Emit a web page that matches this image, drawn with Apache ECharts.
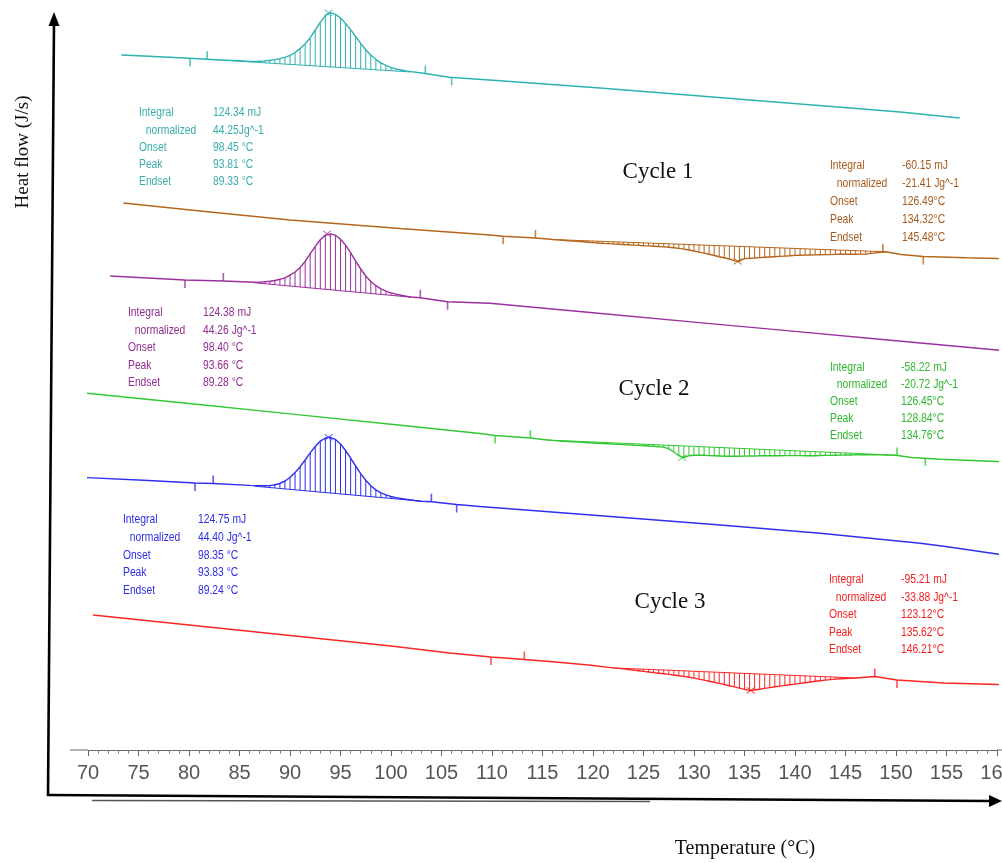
<!DOCTYPE html>
<html>
<head>
<meta charset="utf-8">
<title>DSC cycles</title>
<script src="https://cdn.jsdelivr.net/npm/echarts@6/dist/echarts.min.js"></script>
<style>
    html, body { margin: 0; padding: 0; background: #fff; overflow: hidden; }
    #main { position: absolute; left: 0; top: 0; width: 1002px; height: 863px; }
</style>
</head>
<body>
<div id="main"></div>
<script>
// ---- 数据：温度(°C) / 热流(任意单位) ----
// cycle 1 冷却（青色，放热峰）
var c1Cool = [[73.3,695],[76.0,693.8],[80.1,691.7],[81.8,690.8],[83.1,690.0],[85.0,689.2],
    [86.0,688.5],[86.5,688.6],[87.0,688.7],[87.5,689.1],[88.0,689.7],[88.5,690.4],[89.0,691.3],[89.5,692.7],
    [90.0,694.6],[90.5,697.5],[91.0,701.4],[91.5,706.1],[92.0,712.3],[92.5,720.0],[93.0,727.7],[93.5,734.4],
    [94.0,737.3],[94.5,735.7],[95.0,731.9],[95.5,726.6],[96.0,720.3],[96.5,713.5],[97.0,706.6],[97.5,700.3],
    [98.0,695.0],[98.5,690.7],[99.0,687.2],[99.5,684.6],[100.0,682.6],[100.5,681.1],[101.0,680.0],[101.5,679.1],
    [102.0,678.4],[103.2,676.7],[105.8,672.7],[110.8,669.3],[120.7,662.0],[130.6,654.0],[140.5,646.0],
    [150.4,638.0],[156.3,632.0]];
var c1CoolBase = [[83.1,690.0],[102.0,678.0]];
var c1CoolMarks = [[80.1,691.7],[81.8,690.8],[103.4,676.4],[106.0,672.6]];
var c1CoolPeak = [93.81,737.3];

// cycle 1 加热（棕色，吸热谷）
var c1Heat = [[73.5,547],[81.1,539],[90.0,530],[100.9,521.5],[109.8,515],[111.1,513.8],[114.3,512],[115.5,511],
    [116.0,510.5],[116.5,510.1],[117.0,509.7],[117.5,509.3],[118.0,509.0],[118.5,508.6],[119.0,508.2],[119.5,507.8],
    [120.0,507.4],[120.5,507.0],[121.0,506.6],[121.5,506.4],[122.0,506.1],[122.5,505.8],[123.0,505.5],[123.5,505.2],
    [124.0,504.9],[124.5,504.6],[125.0,504.3],[125.5,504.1],[126.0,503.8],[126.5,503.5],[127.0,503.1],[127.5,502.7],
    [128.0,502.2],[128.5,501.6],[129.0,500.9],[129.5,500.0],[130.0,499.0],[130.5,497.9],[131.0,496.9],[131.5,495.7],
    [132.0,494.5],[132.5,493.3],[133.0,492.2],[133.5,491.0],[134.0,489.3],[134.5,488.8],[135.0,491.4],[135.5,491.7],
    [136.0,492.0],[136.5,492.4],[137.0,492.7],[137.5,493.0],[138.0,493.3],[138.5,493.6],[139.0,493.9],[139.5,494.2],
    [140.0,494.6],[140.5,494.8],[141.0,494.9],[141.5,495.0],[142.0,495.1],[142.5,495.3],[143.0,495.4],[143.5,495.4],
    [144.0,495.6],[144.5,495.7],[145.0,495.7],[145.5,495.7],[146.0,495.8],[146.5,495.9],[147.0,495.9],[147.5,496.6],
    [148.0,497.1],[148.5,497.7],[149.0,498.2],[150.5,495.5],[152.7,493.5],[157.0,492.2],[160.0,491.5],[160.5,491.3]];
var c1HeatBase = [[116.0,510.5],[149.0,498.2]];
var c1HeatMarks = [[111.1,513.8],[114.3,512.0],[148.7,498.3],[152.7,493.5]];
var c1HeatPeak = [134.32,488.6];

// cycle 2 冷却（紫色）
var c2Cool = [[72.2,474],[79.6,470],[83.4,469],
    [86.5,467.7],[87.0,467.9],[87.5,468.3],[88.0,468.8],[88.5,469.5],[89.0,470.7],[89.5,472.2],[90.0,474.9],
    [90.5,478.0],[91.0,482.5],[91.5,488.6],[92.0,496.1],[92.5,503.6],[93.0,510.2],[93.5,514.7],[94.0,516.2],
    [94.5,514.8],[95.0,510.8],[95.5,504.9],[96.0,497.4],[96.5,488.9],[97.0,481.0],[97.5,474.0],[98.0,468.5],
    [98.5,464.3],[99.0,461.1],[99.5,458.9],[100.0,457.2],[100.5,455.8],[101.0,454.8],[101.5,453.8],[102.0,453.0],
    [102.9,452.3],[105.6,448.3],[109.8,446.7],[120.0,437.2],[130.0,427.9],[140.0,418.6],[150.0,409.3],[160.0,400.0],
    [160.5,399.5]];
var c2CoolBase = [[86.5,467.2],[102.0,452.8]];
var c2CoolMarks = [[79.6,470.0],[83.4,469.0],[102.9,452.3],[105.6,448.3]];
var c2CoolPeak = [93.66,516.2];

// cycle 2 加热（绿色）
var c2Heat = [[69.7,357],[80.0,346.5],[90.0,336.1],[100.0,325.7],[108.8,316.5],[110.3,314.5],[113.8,312.0],
    [115.5,310.0],[116.0,309.6],[116.5,309.3],[117.0,308.8],[117.5,308.5],[118.0,308.2],[118.5,307.9],[119.0,307.6],
    [119.5,307.3],[120.0,307.0],[120.5,306.7],[121.0,306.5],[121.5,306.2],[122.0,305.9],[122.5,305.7],[123.0,305.4],
    [123.5,305.1],[124.0,304.8],[124.5,304.6],[125.0,304.3],[125.5,304.0],[126.0,303.8],[126.5,303.3],[127.0,302.9],
    [127.5,301.2],[128.0,298.0],[128.5,294.3],[129.0,292.5],[129.5,294.3],[130.0,294.8],[130.5,294.8],[131.0,294.7],
    [131.5,294.4],[132.0,294.2],[132.5,294.0],[133.0,293.8],[133.5,293.7],[134.0,293.8],[134.5,293.8],[135.0,293.9],
    [135.5,294.0],[136.0,293.9],[136.5,294.2],[137.0,294.3],[137.5,294.3],[138.0,294.3],[138.5,294.3],[139.0,294.4],
    [139.5,294.4],[140.0,294.4],[140.5,294.4],[141.0,294.3],[141.5,294.3],[142.0,294.3],[142.5,294.5],[143.0,294.6],
    [143.5,294.6],[144.0,294.8],[144.5,294.9],[145.0,295.0],[145.5,295.0],[146.0,295.1],[146.5,295.2],[147.0,295.2],
    [147.5,295.2],[148.0,295.1],[148.5,295.1],[149.0,295.0],[149.5,294.9],[150.0,294.8],[151.5,292.5],[154.4,290.7],
    [160.0,288.5],[160.5,288.3]];
var c2HeatBase = [[115.5,310.0],[150.0,294.8]];
var c2HeatMarks = [[110.3,314.5],[113.8,312.0],[150.1,294.6],[152.9,292.0]];
var c2HeatPeak = [128.84,292.3];

// cycle 3 冷却（蓝色）
var c3Cool = [[69.6,272.5],[76.0,269.5],[80.6,267.0],[82.4,266.5],[86.0,264.6],
    [86.5,264.4],[87.0,264.2],[87.5,264.2],[88.0,264.4],[88.5,265.2],[89.0,266.5],[89.5,269.0],[90.0,272.5],
    [90.5,277.4],[91.0,283.3],[91.5,290.0],[92.0,297.1],[92.5,303.5],[93.0,308.9],[93.5,312.0],[94.0,312.7],
    [94.5,310.6],[95.0,306.0],[95.5,299.5],[96.0,291.9],[96.5,284.0],[97.0,276.4],[97.5,269.8],[98.0,264.3],
    [98.5,260.1],[99.0,257.2],[99.5,255.1],[100.0,253.5],[100.5,252.4],[101.0,251.5],[101.5,250.7],[102.0,250.0],
    [102.5,249.3],[103.0,248.8],[104.0,248.3],[106.5,245.5],[108.8,243.5],[122.7,232.7],[132.6,225.0],
    [142.5,216.7],[152.4,206.7],[154.9,203.5],[160.0,196.0],[160.5,195.2]];
var c3CoolBase = [[86.5,263.8],[103.0,248.8]];
var c3CoolMarks = [[80.6,267.0],[82.4,266.5],[104.0,248.3],[106.5,245.5]];
var c3CoolPeak = [93.83,312.7];

// cycle 3 加热（红色）
var c3Heat = [[70.5,135],[80.0,125.0],[90.0,114.5],[100.0,104.0],[105.8,97.0],[109.9,93.0],[113.2,90.5],
    [116.3,88.0],[119.8,84.8],
    [122.0,82.1],[122.5,81.6],[123.0,81.1],[123.5,80.5],[124.0,79.9],[124.5,79.3],[125.0,78.6],[125.5,78.0],
    [126.0,77.4],[126.5,76.8],[127.0,76.2],[127.5,75.6],[128.0,75.0],[128.5,74.3],[129.0,73.6],[129.5,72.8],
    [130.0,71.9],[130.5,70.9],[131.0,69.9],[131.5,68.8],[132.0,67.7],[132.5,66.6],[133.0,65.5],[133.5,64.3],
    [134.0,63.1],[134.5,61.9],[135.0,60.6],[135.5,59.6],[136.0,60.0],[136.5,60.8],[137.0,61.6],[137.5,62.4],
    [138.0,63.2],[138.5,63.9],[139.0,64.6],[139.5,65.3],[140.0,65.9],[140.5,66.6],[141.0,67.3],[141.5,68.0],
    [142.0,68.7],[142.5,69.3],[143.0,69.9],[143.5,70.4],[144.0,70.9],[144.5,71.2],[145.0,71.4],[145.5,71.7],
    [146.0,72.0],[147.9,73.5],[150.1,70.0],[154.7,67.0],[160.0,65.5],[160.5,65.3]];
var c3HeatBase = [[122.0,82.1],[146.0,72.0]];
var c3HeatMarks = [[109.9,93.0],[113.2,90.5],[147.9,73.5],[150.1,70.0]];
var c3HeatPeak = [135.62,59.6];

// 刻度
var tempMin = 70, tempMax = 160, tempStep = 5;

// 标注文字
var infoLabels = ['Integral', ' normalized', 'Onset', 'Peak', 'Endset'];
var c1CoolInfo = ['124.34 mJ', '44.25Jg^-1', '98.45 °C', '93.81 °C', '89.33 °C'];
var c1HeatInfo = ['-60.15 mJ', '-21.41 Jg^-1', '126.49°C', '134.32°C', '145.48°C'];
var c2CoolInfo = ['124.38 mJ', '44.26 Jg^-1', '98.40 °C', '93.66 °C', '89.28 °C'];
var c2HeatInfo = ['-58.22 mJ', '-20.72 Jg^-1', '126.45°C', '128.84°C', '134.76°C'];
var c3CoolInfo = ['124.75 mJ', '44.40 Jg^-1', '98.35 °C', '93.83 °C', '89.24 °C'];
var c3HeatInfo = ['-95.21 mJ', '-33.88 Jg^-1', '123.12°C', '135.62°C', '146.21°C'];
var cycleNames = ['Cycle 1', 'Cycle 2', 'Cycle 3'];

(function () {
    var myechart = echarts.init(document.getElementById('main'));

    var colors = {
        cyan: '#2db3b0', brown: '#b5651d', purple: '#9c2f9c',
        green: '#33c833', blue: '#2f2ff0', red: '#ff2626'
    };

    // 积分区域的竖线（曲线到基线）
    function hatchSeries(curve, base, color) {
        var pts = curve.filter(function (p) {
            return p[0] >= base[0][0] && p[0] <= base[1][0];
        });
        return {
            type: 'custom',
            data: pts,
            silent: true,
            z: 3,
            renderItem: function (params, api) {
                var t = api.value(0), v = api.value(1);
                var b = base[0][1] + (base[1][1] - base[0][1]) * (t - base[0][0]) / (base[1][0] - base[0][0]);
                var p1 = api.coord([t, v]);
                var p2 = api.coord([t, b]);
                return {
                    type: 'line',
                    shape: { x1: p1[0], y1: p1[1], x2: p2[0], y2: p2[1] },
                    style: { stroke: color, lineWidth: 1 }
                };
            }
        };
    }

    // 曲线一直画到画布右边（超出 160 一点）
    function curveSeries(curve, color) {
        return {
            type: 'line', data: curve, symbol: 'none', silent: true, z: 4, clip: false,
            lineStyle: { color: color, width: 1.4 }
        };
    }

    function baseSeries(base, color) {
        return {
            type: 'line', data: base, symbol: 'none', silent: true, z: 3,
            lineStyle: { color: color, width: 1 }
        };
    }

    // 积分起止的小竖标
    function markSeries(marks, color) {
        return {
            type: 'scatter', silent: true, z: 5,
            symbol: 'rect', symbolSize: [1.6, 8],
            itemStyle: { color: color },
            data: marks.map(function (p, i) {
                return { value: p, symbolOffset: [0, (i === 0 || i === 3) ? 4 : -4] };
            })
        };
    }

    // 峰值处的 x
    function peakSeries(peak, color) {
        return {
            type: 'scatter', silent: true, z: 5,
            symbol: 'path://M0,0L10,8M10,0L0,8', symbolSize: [8, 6],
            itemStyle: { color: 'rgba(0,0,0,0)', borderColor: color, borderWidth: 1 },
            data: [peak]
        };
    }

    var curves = [
        [c1Cool, c1CoolBase, c1CoolMarks, c1CoolPeak, colors.cyan],
        [c1Heat, c1HeatBase, c1HeatMarks, c1HeatPeak, colors.brown],
        [c2Cool, c2CoolBase, c2CoolMarks, c2CoolPeak, colors.purple],
        [c2Heat, c2HeatBase, c2HeatMarks, c2HeatPeak, colors.green],
        [c3Cool, c3CoolBase, c3CoolMarks, c3CoolPeak, colors.blue],
        [c3Heat, c3HeatBase, c3HeatMarks, c3HeatPeak, colors.red]
    ];
    var series = [];
    curves.forEach(function (c) {
        series.push(curveSeries(c[0], c[4]));
        series.push(baseSeries(c[1], c[4]));
        series.push(hatchSeries(c[0], c[1], c[4]));
        series.push(markSeries(c[2], c[4]));
        series.push(peakSeries(c[3], c[4]));
    });

    // 文字块（窄字体，横向压一点）
    var graphic = [];
    var smallFont = '12px "Liberation Sans", sans-serif';
    function infoBlock(values, x1, x2, y0, gap, color) {
        infoLabels.forEach(function (lab, i) {
            graphic.push({
                type: 'text', x: x1 + (i === 1 ? 4 : 0), y: y0 + i * gap, scaleX: 0.86, silent: true,
                style: { text: lab, font: smallFont, fill: color, textVerticalAlign: 'middle' }
            });
            graphic.push({
                type: 'text', x: x2, y: y0 + i * gap, scaleX: 0.86, silent: true,
                style: { text: values[i], font: smallFont, fill: color, textVerticalAlign: 'middle' }
            });
        });
    }
    infoBlock(c1CoolInfo, 139, 213, 113, 17.2, '#3aaeab');
    infoBlock(c1HeatInfo, 830, 902, 166, 17.8, '#a85a1c');
    infoBlock(c2CoolInfo, 128, 203, 313, 17.5, '#912d91');
    infoBlock(c2HeatInfo, 830, 901, 368, 17.0, '#2fb82f');
    infoBlock(c3CoolInfo, 123, 198, 520, 17.7, '#2d2de6');
    infoBlock(c3HeatInfo, 829, 901, 580, 17.5, '#f42020');

    var serif = '"Liberation Serif", "DejaVu Serif", serif';
    var cyclePos = [[658, 172], [654, 389], [670, 602]];
    cycleNames.forEach(function (name, i) {
        graphic.push({
            type: 'text', x: cyclePos[i][0], y: cyclePos[i][1], silent: true,
            style: { text: name, font: '23px ' + serif, fill: '#111', textAlign: 'center', textVerticalAlign: 'middle' }
        });
    });

    // 手画的坐标轴箭头
    graphic.push(
        { type: 'line', silent: true, shape: { x1: 48, y1: 796, x2: 54, y2: 22 }, style: { stroke: '#000', lineWidth: 2.6 } },
        { type: 'polygon', silent: true, shape: { points: [[54, 12], [48.5, 26], [59.5, 26]] }, style: { fill: '#000' } },
        { type: 'line', silent: true, shape: { x1: 47, y1: 795, x2: 990, y2: 801 }, style: { stroke: '#000', lineWidth: 2.6 } },
        { type: 'line', silent: true, shape: { x1: 92, y1: 800.5, x2: 650, y2: 801.5 }, style: { stroke: '#555', lineWidth: 1.4 } },
        { type: 'polygon', silent: true, shape: { points: [[1002, 801], [989, 795], [989, 807]] }, style: { fill: '#000' } },
        { type: 'line', silent: true, shape: { x1: 70, y1: 750, x2: 88, y2: 750 }, style: { stroke: '#666', lineWidth: 1 } },
        { type: 'line', silent: true, shape: { x1: 997, y1: 750, x2: 1002, y2: 750 }, style: { stroke: '#666', lineWidth: 1 } },
        {
            type: 'text', x: 23, y: 152, rotation: Math.PI / 2, silent: true,
            style: { text: 'Heat flow (J/s)', font: '19px ' + serif, fill: '#111', textAlign: 'center', textVerticalAlign: 'middle' }
        },
        {
            type: 'text', x: 745, y: 849, silent: true,
            style: { text: 'Temperature (°C)', font: '20px ' + serif, fill: '#111', textAlign: 'center', textVerticalAlign: 'middle' }
        }
    );

    var option = {
        animation: false,
        // 不让刻度文字把网格挤窄（160 在右边被截掉）
        grid: { left: 88, right: 5, top: 0, bottom: 113, containLabel: false, outerBoundsMode: 'none' },
        xAxis: {
            type: 'value', min: tempMin, max: tempMax, interval: tempStep,
            axisLine: { show: true, lineStyle: { color: '#666', width: 1 } },
            axisTick: { show: true, length: 6, lineStyle: { color: '#666' } },
            minorTick: { show: true, splitNumber: 5, length: 3.5, lineStyle: { color: '#777' } },
            splitLine: { show: false },
            axisLabel: {
                color: '#555', fontSize: 20, margin: 13,
                fontFamily: '"Liberation Sans Narrow", "Liberation Sans", sans-serif'
            }
        },
        yAxis: { type: 'value', min: 0, max: 750, show: false },
        series: series,
        graphic: graphic
    };
    myechart.setOption(option);
})();
</script>
</body>
</html>
